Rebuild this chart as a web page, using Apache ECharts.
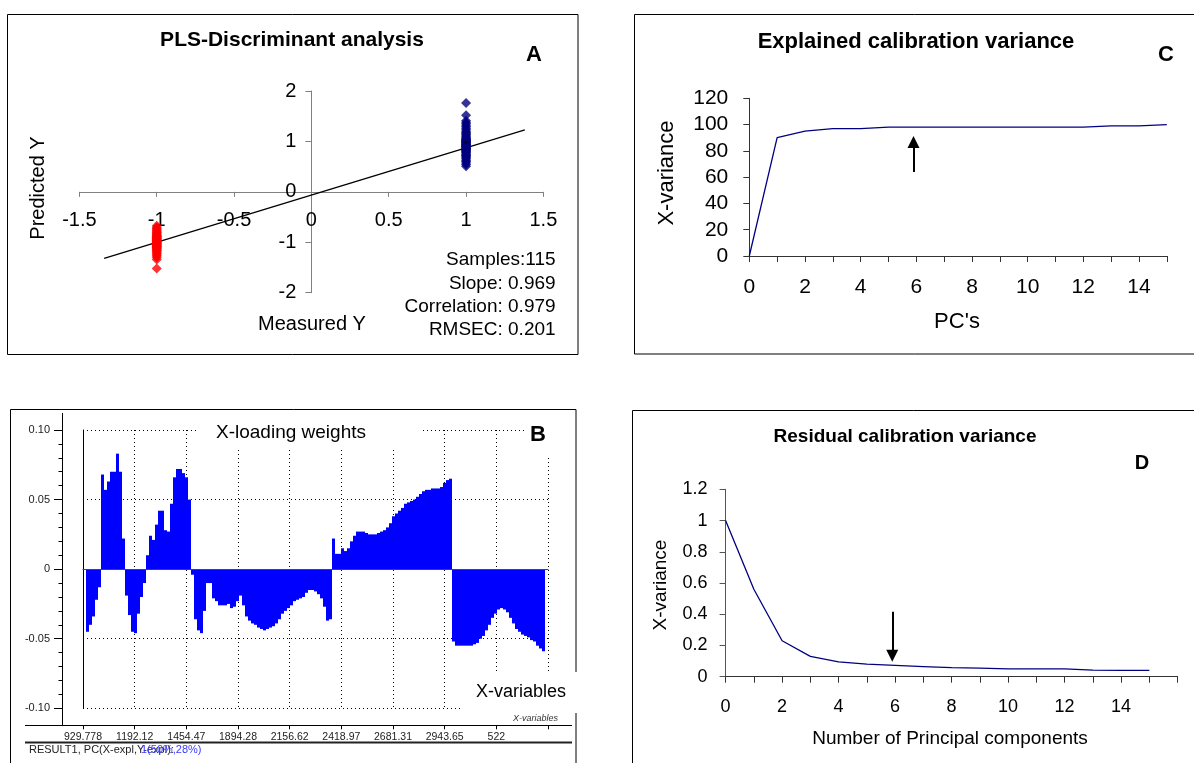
<!DOCTYPE html>
<html>
<head>
<meta charset="utf-8">
<script src="https://cdn.jsdelivr.net/npm/echarts@6/dist/echarts.min.js"></script>
<style>html,body{margin:0;padding:0;background:#fff}#chart{width:1194px;height:763px}</style>
</head>
<body>
<div id="chart"></div>
<script>
// ---------- Panel A: PLS-DA measured vs predicted ----------
const aRedY = [-0.67,-0.70,-0.72,-0.74,-0.76,-0.78,-0.80,-0.81,-0.83,-0.84,-0.86,-0.87,-0.88,-0.89,-0.90,-0.91,-0.92,-0.93,-0.94,-0.95,-0.96,-0.97,-0.98,-0.99,-1.00,-1.01,-1.02,-1.03,-1.04,-1.05,-1.06,-1.07,-1.08,-1.09,-1.10,-1.11,-1.12,-1.13,-1.14,-1.16,-1.17,-1.19,-1.21,-1.23,-1.25,-1.27,-1.30,-1.34,-1.52,-0.93,-0.97,-1.01,-1.05,-0.88,-1.09];
const aBlueY = [0.51,0.54,0.57,0.60,0.62,0.65,0.67,0.69,0.71,0.73,0.75,0.77,0.78,0.80,0.81,0.82,0.84,0.85,0.86,0.87,0.88,0.89,0.90,0.91,0.92,0.93,0.94,0.95,0.96,0.97,0.98,0.99,1.00,1.01,1.02,1.03,1.05,1.06,1.08,1.10,1.12,1.14,1.16,1.18,1.20,1.23,1.26,1.29,1.32,1.35,1.38,1.41,1.52,1.76,0.83,0.90,0.94,0.99,1.04,0.72];
const aRedX = -1;
const aBlueX = 1;
const aFitLine = [[-1.34, -1.32], [1.38, 1.23]];
const aCentroid = [[1, 0.98]];
const aStats = ['Samples:115', 'Slope: 0.969', 'Correlation: 0.979', 'RMSEC: 0.201'];

// ---------- Panel C: explained calibration variance ----------
const cPCs = [0,1,2,3,4,5,6,7,8,9,10,11,12,13,14,15];
const cExplained = [0,90,95,97,97,98,98,98,98,98,98,98,98,99,99,100];
const cArrow = [[5.9, 63.9], [5.9, 86.7]];

// ---------- Panel D: residual calibration variance ----------
const dPCs = [0,1,2,3,4,5,6,7,8,9,10,11,12,13,14,15];
const dResidual = [1.0,0.56,0.23,0.13,0.095,0.08,0.072,0.065,0.058,0.055,0.05,0.05,0.05,0.042,0.04,0.04];
const dArrow = [[5.9, 0.416], [5.9, 0.134]];

// ---------- Panel B: X-loading weights ----------
const bLoadings = [null,-0.045,-0.040,-0.034,-0.022,-0.013,0.068,0.057,0.063,0.070,
 0.070,0.083,0.070,0.022,-0.019,-0.033,-0.045,-0.046,-0.032,-0.020,
 -0.010,0.010,0.024,0.021,0.032,0.042,0.042,0.028,0.027,0.047,
 0.066,0.072,0.072,0.069,0.066,0.050,-0.004,-0.036,-0.044,-0.046,
 -0.030,-0.010,-0.010,-0.021,-0.023,-0.026,-0.026,-0.026,-0.025,-0.028,
 -0.027,-0.023,-0.019,-0.026,-0.034,-0.037,-0.039,-0.040,-0.042,-0.043,
 -0.044,-0.043,-0.042,-0.041,-0.039,-0.036,-0.032,-0.030,-0.028,-0.026,
 -0.023,-0.022,-0.021,-0.020,-0.017,-0.015,-0.015,-0.016,-0.018,-0.021,
 -0.027,-0.037,-0.036,0.022,0.011,0.011,0.015,0.013,0.015,0.020,
 0.024,0.027,0.027,0.027,0.026,0.025,0.025,0.025,0.026,0.027,
 0.028,0.030,0.033,0.038,0.040,0.042,0.044,0.047,0.048,0.049,
 0.050,0.052,0.054,0.056,0.057,0.057,0.058,0.058,0.058,0.059,
 0.062,0.064,0.065,-0.052,-0.055,-0.055,-0.055,-0.055,-0.055,-0.055,
 -0.054,-0.053,-0.050,-0.048,-0.044,-0.040,-0.035,-0.032,-0.029,-0.028,
 -0.029,-0.031,-0.035,-0.039,-0.043,-0.045,-0.047,-0.048,-0.049,-0.051,
 -0.052,-0.055,-0.057,-0.059,null];
const bTickLabels = ['929.778','1192.12','1454.47','1894.28','2156.62','2418.97','2681.31','2943.65','522',''];

const FONT = "'Liberation Sans', Arial, Helvetica, sans-serif";

function txt(x, y, text, o) {
  o = o || {};
  const size = o.size || 12;
  const weight = o.bold ? 'bold' : 'normal';
  const styleStr = o.italic ? 'italic' : 'normal';
  return {
    type: 'text', x: x, y: y, z: 20, rotation: o.rot || 0, silent: true,
    style: {
      text: text, x: 0, y: 0,
      font: styleStr + ' ' + weight + ' ' + size + 'px ' + FONT,
      fill: o.color || '#000',
      align: o.align || 'center', textAlign: o.align || 'center',
      verticalAlign: 'middle', textVerticalAlign: 'middle'
    }
  };
}
function rect(x, y, w, h, o) {
  o = o || {};
  return { type: 'rect', z: o.z || 15, silent: true, shape: { x: x, y: y, width: w, height: h },
    style: { fill: o.fill || 'none', stroke: o.stroke || null, lineWidth: o.lw || 1 } };
}
function hline(x1, x2, y, lw, color) {
  return { type: 'line', z: 15, silent: true, shape: { x1: x1, y1: y, x2: x2, y2: y }, style: { stroke: color || '#000', lineWidth: lw || 1 } };
}
function vline(x, y1, y2, lw, color) {
  return { type: 'line', z: 15, silent: true, shape: { x1: x, y1: y1, x2: x, y2: y2 }, style: { stroke: color || '#000', lineWidth: lw || 1 } };
}

const chart = echarts.init(document.getElementById('chart'), null, { renderer: 'canvas', width: 1194, height: 763 });

const dotted = { color: '#000', width: 1, type: [1, 3] };

// grid A geometry (for putting axes through the origin)
const gA = { left: 79.4, top: 91, width: 464, height: 201.7 };
const aXOffset = -(gA.height / 2);          // x axis at y = 0
const aYOffset = -(gA.width / 2);           // y axis at x = 0

const option = {
  animation: false,
  backgroundColor: '#ffffff',
  textStyle: { fontFamily: FONT },
  grid: [
    { left: gA.left, top: gA.top, width: gA.width, height: gA.height, containLabel: false, outerBoundsMode: 'none' },
    { left: 749.3, top: 98.3, width: 417.5, height: 157.7, containLabel: false, outerBoundsMode: 'none' },
    { left: 83, top: 430, width: 465, height: 278.3, containLabel: false, outerBoundsMode: 'none' },
    { left: 725.6, top: 489.3, width: 452, height: 187.4, containLabel: false, outerBoundsMode: 'none' }
  ],
  xAxis: [
    { // A
      type: 'value', gridIndex: 0, min: -1.5, max: 1.5, interval: 0.5, position: 'bottom', offset: aXOffset,
      axisLine: { show: true, onZero: false, lineStyle: { color: '#808080', width: 1 } },
      axisTick: { show: true, inside: false, length: 5, lineStyle: { color: '#808080' } },
      axisLabel: { show: true, fontSize: 20, color: '#000', margin: 19, fontFamily: FONT },
      splitLine: { show: false }
    },
    { // C
      type: 'value', gridIndex: 1, min: 0, max: 15, interval: 1,
      axisLine: { show: true, onZero: false, lineStyle: { color: '#333', width: 1 } },
      axisTick: { show: true, inside: false, length: 6, lineStyle: { color: '#333' } },
      axisLabel: { show: true, fontSize: 21, color: '#000', margin: 21, fontFamily: FONT,
        formatter: function (v) { return (v % 2 === 0 && v <= 14) ? String(v) : ''; } },
      splitLine: { show: false }
    },
    { // B bars (category)
      type: 'category', gridIndex: 2, data: bLoadings.map(function (v, i) { return String(i); }),
      boundaryGap: true, z: 5,
      axisLine: { show: true, onZero: true, onZeroAxisIndex: 2, lineStyle: { color: '#444', width: 1 } },
      axisTick: { show: false }, axisLabel: { show: false }, splitLine: { show: false }
    },
    { // B tick axis
      type: 'value', gridIndex: 2, min: 0, max: 9, interval: 1, position: 'bottom', offset: 17,
      axisLine: { show: true, onZero: false, lineStyle: { color: '#000', width: 1 } },
      axisTick: { show: true, inside: false, length: 4, lineStyle: { color: '#000' } },
      axisLabel: { show: true, fontSize: 10.5, color: '#222', margin: 6, fontFamily: FONT,
        formatter: function (v) { return bTickLabels[Math.round(v)] || ''; } },
      splitLine: { show: true, lineStyle: dotted }
    },
    { // D
      type: 'value', gridIndex: 3, min: 0, max: 16, interval: 1,
      axisLine: { show: true, onZero: false, lineStyle: { color: '#333', width: 1 } },
      axisTick: { show: true, inside: false, length: 6, lineStyle: { color: '#333' } },
      axisLabel: { show: true, fontSize: 18, color: '#000', margin: 21, fontFamily: FONT,
        formatter: function (v) { return (v % 2 === 0 && v <= 14) ? String(v) : ''; } },
      splitLine: { show: false }
    }
  ],
  yAxis: [
    { // A
      type: 'value', gridIndex: 0, min: -2, max: 2, interval: 1, position: 'left', offset: aYOffset,
      axisLine: { show: true, onZero: false, lineStyle: { color: '#808080', width: 1 } },
      axisTick: { show: true, inside: false, length: 6, lineStyle: { color: '#808080' } },
      axisLabel: { show: true, fontSize: 20, color: '#000', margin: 15, fontFamily: FONT },
      splitLine: { show: false }
    },
    { // C
      type: 'value', gridIndex: 1, min: 0, max: 120, interval: 20,
      axisLine: { show: true, onZero: false, lineStyle: { color: '#333', width: 1 } },
      axisTick: { show: true, inside: false, length: 6, lineStyle: { color: '#333' } },
      axisLabel: { show: true, fontSize: 21, color: '#000', margin: 21, fontFamily: FONT },
      splitLine: { show: false }
    },
    { // B grid frame axis
      type: 'value', gridIndex: 2, min: -0.1, max: 0.1, interval: 0.05,
      axisLine: { show: true, onZero: false, lineStyle: { color: '#000', width: 1 } },
      axisTick: { show: false }, axisLabel: { show: false },
      splitLine: { show: true, lineStyle: dotted }
    },
    { // B labelled axis
      type: 'value', gridIndex: 2, min: -0.1, max: 0.1, interval: 0.05, position: 'left', offset: 20,
      axisLine: { show: false, onZero: false },
      axisTick: { show: true, inside: false, length: 9, lineStyle: { color: '#000' } },
      minorTick: { show: true, splitNumber: 5, length: 4.5, lineStyle: { color: '#000' } },
      axisLabel: { show: true, fontSize: 11, color: '#222', margin: 13, fontFamily: FONT,
        formatter: function (v) { return Math.abs(v) < 1e-9 ? '0' : v.toFixed(2); } },
      splitLine: { show: false }
    },
    { // D
      type: 'value', gridIndex: 3, min: 0, max: 1.2, interval: 0.2,
      axisLine: { show: true, onZero: false, lineStyle: { color: '#555', width: 1 } },
      axisTick: { show: true, inside: false, length: 6, lineStyle: { color: '#555' } },
      axisLabel: { show: true, fontSize: 18, color: '#000', margin: 18, fontFamily: FONT,
        formatter: function (v) { return String(Math.round(v * 10) / 10); } },
      splitLine: { show: false }
    }
  ],
  series: [
    { type: 'line', xAxisIndex: 0, yAxisIndex: 0, data: aFitLine, symbol: 'none', silent: true,
      lineStyle: { color: '#000', width: 1.3 }, z: 3 },
    { type: 'scatter', xAxisIndex: 0, yAxisIndex: 0, symbol: 'diamond', symbolSize: 10, silent: true,
      data: aRedY.map(function (v) { return [aRedX, v]; }), itemStyle: { color: '#ff0000' }, z: 4 },
    { type: 'scatter', xAxisIndex: 0, yAxisIndex: 0, symbol: 'diamond', symbolSize: 10, silent: true,
      data: aBlueY.map(function (v) { return [aBlueX, v]; }), itemStyle: { color: '#000080' }, z: 4 },
    { type: 'scatter', xAxisIndex: 0, yAxisIndex: 0, symbol: 'circle', symbolSize: 3, silent: true,
      data: aCentroid, itemStyle: { color: '#000' }, z: 5 },
    { type: 'line', xAxisIndex: 1, yAxisIndex: 1, symbol: 'none', silent: true,
      data: cExplained.map(function (v, i) { return [cPCs[i], v]; }),
      lineStyle: { color: '#000080', width: 1.3 },
      markLine: { silent: true, animation: false, label: { show: false },
        lineStyle: { color: '#000', width: 2, type: 'solid' },
        data: [[ { coord: cArrow[0], symbol: 'none' }, { coord: cArrow[1], symbol: 'triangle', symbolSize: 12 } ]] } },
    { type: 'bar', xAxisIndex: 2, yAxisIndex: 2, data: bLoadings, silent: true,
      barCategoryGap: '0%', barGap: '0%', itemStyle: { color: '#0000ff' }, z: 2 },
    { type: 'line', xAxisIndex: 4, yAxisIndex: 4, symbol: 'none', silent: true,
      data: dResidual.map(function (v, i) { return [dPCs[i], v]; }),
      lineStyle: { color: '#000080', width: 1.3 },
      markLine: { silent: true, animation: false, label: { show: false },
        lineStyle: { color: '#000', width: 2, type: 'solid' },
        data: [[ { coord: dArrow[0], symbol: 'none' }, { coord: dArrow[1], symbol: 'triangle', symbolSize: 12 } ]] } }
  ],
  graphic: { elements: [
    // panel frames
    rect(7.5, 14.5, 570.5, 340, { stroke: '#000' }),
    rect(634.5, 14.5, 620, 339.5, { stroke: '#000' }),
    rect(632.5, 410.5, 620, 400, { stroke: '#000' }),
    rect(10.5, 409.5, 565.5, 400, { stroke: '#000' }),
    // panel B extra axis lines
    vline(62.5, 413, 725.5, 1, '#000'),
    hline(25, 572, 725.5, 1, '#000'),
    hline(25, 572, 742.5, 2, '#222'),
    // panel B white boxes
    rect(197, 414, 223, 36, { fill: '#fff', z: 16 }),
    rect(525, 421, 28, 36, { fill: '#fff', z: 16 }),
    rect(462, 672, 118, 41, { fill: '#fff', z: 16 }),
    // panel A texts
    txt(292, 40, 'PLS-Discriminant analysis', { size: 21, bold: true }),
    txt(534, 55, 'A', { size: 22, bold: true }),
    txt(38, 188, 'Predicted Y', { size: 20, rot: Math.PI / 2 }),
    txt(312, 324, 'Measured Y', { size: 20 }),
    txt(555.6, 260, aStats[0], { size: 19, align: 'right' }),
    txt(555.6, 283.3, aStats[1], { size: 19, align: 'right' }),
    txt(555.6, 306.5, aStats[2], { size: 19, align: 'right' }),
    txt(555.6, 330, aStats[3], { size: 19, align: 'right' }),
    // panel C texts
    txt(916, 42, 'Explained calibration variance', { size: 22, bold: true }),
    txt(1166, 55, 'C', { size: 22, bold: true }),
    txt(667, 173, 'X-variance', { size: 22, rot: Math.PI / 2 }),
    txt(957, 322, "PC's", { size: 22 }),
    // panel B texts
    txt(291, 433, 'X-loading weights', { size: 19 }),
    txt(538, 435, 'B', { size: 22, bold: true }),
    txt(521, 692, 'X-variables', { size: 18 }),
    txt(558, 718, 'X-variables', { size: 9, italic: true, align: 'right', color: '#333' }),
    txt(29, 750, 'RESULT1, PC(X-expl,Y-expl):', { size: 11, align: 'left', color: '#222' }),
    txt(141, 750, '1(50%,28%)', { size: 11, align: 'left', color: '#3a3aff' }),
    // panel D texts
    txt(905, 437, 'Residual calibration variance', { size: 19, bold: true }),
    txt(1142, 463, 'D', { size: 20, bold: true }),
    txt(661, 585, 'X-variance', { size: 19, rot: Math.PI / 2 }),
    txt(950, 739, 'Number of Principal components', { size: 19 })
  ] }
};
chart.setOption(option);
</script>
</body>
</html>
